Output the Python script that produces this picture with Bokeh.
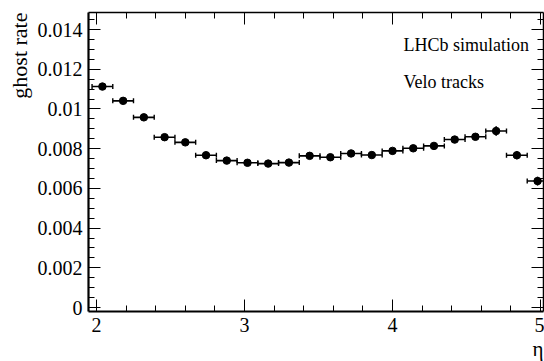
import numpy as np
from bokeh.plotting import figure
from bokeh.models import (ColumnDataSource, Whisker, TeeHead, Label, LinearAxis,
                          Range1d, FixedTicker, CustomJSTickFormatter, Title)
from bokeh.embed import file_html
from bokeh.resources import INLINE

# ---- data ----
eta = [2.04, 2.18, 2.32, 2.46, 2.60, 2.74, 2.88, 3.02, 3.16, 3.30, 3.44,
       3.58, 3.72, 3.86, 4.00, 4.14, 4.28, 4.42, 4.56, 4.70, 4.84, 4.98]
eta_half_width = [0.07] * 22
ghost_rate = [0.01113, 0.01041, 0.00958, 0.00858, 0.00832, 0.00767, 0.00740,
              0.00729, 0.00725, 0.00730, 0.00764, 0.00757, 0.00776, 0.00768,
              0.00789, 0.00802, 0.00814, 0.00846, 0.00860, 0.00889, 0.00767,
              0.00637]
ghost_rate_err = [0.00012, 0.00010, 0.00009, 0.00008, 0.00008, 0.00007, 0.00007,
                  0.00007, 0.00007, 0.00007, 0.00007, 0.00007, 0.00008, 0.00008,
                  0.00008, 0.00009, 0.00010, 0.00011, 0.00013, 0.00024, 0.00020,
                  0.00022]

x_ticks = [2, 3, 4, 5]
x_tick_labels = ["2", "3", "4", "5"]
y_ticks = [0, 0.002, 0.004, 0.006, 0.008, 0.01, 0.012, 0.014]
y_tick_labels = ["0", "0.002", "0.004", "0.006", "0.008", "0.01", "0.012", "0.014"]

x_title = "η"
y_title = "ghost rate"
annotations = ["LHCb simulation", "Velo tracks"]

# ---- figure ----
X0, X1 = 1.946, 5.020
Y0, Y1 = -0.0002, 0.01486
FONT = "'Liberation Serif'"

p = figure(width=544, height=361, output_backend="svg", toolbar_location=None,
           x_range=Range1d(X0, X1), y_range=Range1d(Y0, Y1),
           min_border_left=88, min_border_right=1, min_border_top=12,
           min_border_bottom=50, x_axis_location=None, y_axis_location=None)
p.grid.visible = False
p.outline_line_color = None
p.background_fill_color = "white"
p.border_fill_color = "white"

x_minor = list(np.round(np.arange(1.8, 5.21, 0.2), 3))
y_minor = list(np.round(np.arange(0.0, 0.0151, 0.0005), 5))


def fmt(tv, tl):
    return CustomJSTickFormatter(args=dict(tvals=tv, tlabels=tl), code="""
        let best = 0;
        for (let i = 0; i < tvals.length; i++) {
            if (Math.abs(tvals[i] - tick) < Math.abs(tvals[best] - tick)) best = i;
        }
        return tlabels[best];
    """)


blank = CustomJSTickFormatter(code="return '';")


def style(ax, show_labels, lw, font=FONT):
    ax.axis_line_width = lw
    ax.axis_line_color = "black"
    ax.major_tick_in = 12
    ax.major_tick_out = 0
    ax.minor_tick_in = 6
    ax.minor_tick_out = 0
    ax.major_tick_line_color = "black"
    ax.minor_tick_line_color = "black"
    ax.major_tick_line_width = 1
    ax.minor_tick_line_width = 1
    ax.major_label_text_font = font
    if show_labels:
        ax.major_label_text_font_size = "20px"
        ax.major_label_text_color = "black"
        ax.major_label_standoff = 6
    else:
        ax.major_label_text_font_size = "2px"
        ax.major_label_standoff = 0


xb = LinearAxis(ticker=FixedTicker(ticks=x_ticks, minor_ticks=x_minor),
                formatter=fmt(x_ticks, x_tick_labels))
style(xb, True, 2.2)
p.add_layout(xb, "below")

yl = LinearAxis(ticker=FixedTicker(ticks=y_ticks, minor_ticks=y_minor),
                formatter=fmt(y_ticks, y_tick_labels))
style(yl, True, 2.2)
p.add_layout(yl, "left")

xt = LinearAxis(ticker=FixedTicker(ticks=x_ticks, minor_ticks=x_minor),
                formatter=blank)
style(xt, False, 1.5)
p.add_layout(xt, "above")

yr = LinearAxis(ticker=FixedTicker(ticks=y_ticks, minor_ticks=y_minor),
                formatter=blank)
style(yr, False, 1.5)
p.add_layout(yr, "right")

# axis titles (ROOT style: at the far end of each axis)
p.add_layout(Title(text=y_title, align="right", text_font=FONT,
                   text_font_size="22px", text_font_style="normal",
                   text_color="black", standoff=6, offset=0), "left")
p.add_layout(Title(text=x_title, align="right", text_font=FONT,
                   text_font_size="21px", text_font_style="normal",
                   text_color="black", standoff=0, offset=0), "below")

# ---- data marks ----
src = ColumnDataSource(dict(
    x=eta, y=ghost_rate,
    xl=[a - b for a, b in zip(eta, eta_half_width)],
    xu=[a + b for a, b in zip(eta, eta_half_width)],
    yl=[a - b for a, b in zip(ghost_rate, ghost_rate_err)],
    yu=[a + b for a, b in zip(ghost_rate, ghost_rate_err)],
))

hw = Whisker(source=src, base="y", lower="xl", upper="xu", dimension="width",
             line_color="black", line_width=1.6,
             lower_head=TeeHead(size=5, line_color="black", line_width=1.4),
             upper_head=TeeHead(size=5, line_color="black", line_width=1.4))
p.add_layout(hw)
p.segment(x0="x", y0="yl", x1="x", y1="yu", source=src, line_color="black",
          line_width=1.6)
p.scatter(x="x", y="y", source=src, size=7.5, color="black")


# ---- texts inside the frame ----
def px_to_x(px):
    return X0 + (px - 88) * (X1 - X0) / 455.0


def py_to_y(py):
    return Y1 - (py - 12) * (Y1 - Y0) / 299.0


p.add_layout(Label(x=px_to_x(403), y=py_to_y(44), text=annotations[0],
                   text_font=FONT, text_font_size="18px", text_color="black",
                   text_baseline="middle", text_align="left"))
p.add_layout(Label(x=px_to_x(403), y=py_to_y(81), text=annotations[1],
                   text_font=FONT, text_font_size="18px",
                   text_color="black", text_baseline="middle", text_align="left"))

open("out.html", "w").write(file_html(p, INLINE))
